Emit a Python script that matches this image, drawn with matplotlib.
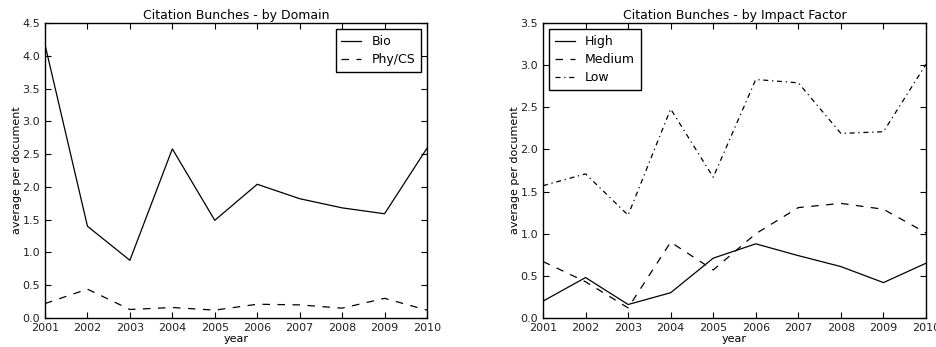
import numpy as np
import matplotlib
matplotlib.use('Agg')
import matplotlib.pyplot as plt

years = [2001, 2002, 2003, 2004, 2005, 2006, 2007, 2008, 2009, 2010]

bio = [4.17, 1.40, 0.88, 2.58, 1.49, 2.04, 1.82, 1.68, 1.59, 2.59]
phycs = [0.22, 0.44, 0.13, 0.16, 0.12, 0.21, 0.20, 0.15, 0.30, 0.12]

high = [0.20, 0.48, 0.16, 0.30, 0.71, 0.88, 0.74, 0.61, 0.42, 0.65]
medium = [0.67, 0.43, 0.12, 0.90, 0.57, 1.00, 1.31, 1.36, 1.29, 1.01]
low = [1.57, 1.71, 1.22, 2.48, 1.67, 2.83, 2.79, 2.19, 2.21, 3.01]

plt.rcParams['font.size'] = 8
plt.rcParams['xtick.direction'] = 'in'
plt.rcParams['ytick.direction'] = 'in'
plt.rcParams['xtick.top'] = True
plt.rcParams['ytick.right'] = True
plt.rcParams['xtick.major.size'] = 4
plt.rcParams['ytick.major.size'] = 4
plt.rcParams['axes.linewidth'] = 1.0
plt.rcParams['legend.fancybox'] = False

fig = plt.figure(figsize=(9.36, 3.47), dpi=100)
ax = fig.add_axes([45/936., 1-318/347., (427-45)/936., (318-23)/347.])
ax2 = fig.add_axes([543/936., 1-318/347., (926-543)/936., (318-23)/347.])

ax.plot(years, bio, 'k-', lw=0.9, label='Bio')
ax.plot(years, phycs, 'k--', lw=0.9, dashes=(6, 6), label='Phy/CS')
ax.set_xlim(2001, 2010)
ax.set_ylim(0, 4.5)
ax.set_yticks(np.arange(0, 4.51, 0.5))
ax.set_xticks(years)
ax.set_title('Citation Bunches - by Domain', fontsize=9, pad=3)
ax.set_xlabel('year', labelpad=1)
ax.set_ylabel('average per document', labelpad=0)

ax2.plot(years, high, 'k-', lw=0.9, label='High')
ax2.plot(years, medium, 'k--', lw=0.9, dashes=(6, 6), label='Medium')
ax2.plot(years, low, 'k-.', lw=0.9, dashes=(4, 3, 1, 3), label='Low')
ax2.set_xlim(2001, 2010)
ax2.set_ylim(0, 3.5)
ax2.set_yticks(np.arange(0, 3.51, 0.5))
ax2.set_xticks(years)
ax2.set_title('Citation Bunches - by Impact Factor', fontsize=9, pad=3)
ax2.set_xlabel('year', labelpad=1)
ax2.set_ylabel('average per document', labelpad=0)

leg = ax.legend(loc='upper right', fontsize=9, borderaxespad=0.5, handlelength=1.6,
                handletextpad=0.8, labelspacing=0.4, borderpad=0.45)
leg2 = ax2.legend(loc='upper left', fontsize=9, borderaxespad=0.5, handlelength=1.6,
                  handletextpad=0.8, labelspacing=0.4, borderpad=0.45)
for lg in (leg, leg2):
    lg.get_frame().set_edgecolor('k')
    lg.get_frame().set_alpha(1)

for a in (ax, ax2):
    a.yaxis.set_major_formatter(matplotlib.ticker.FormatStrFormatter('%.1f'))
    for lbl in a.get_xticklabels() + a.get_yticklabels():
        lbl.set_color('#222222')

fig.savefig('out.png', dpi=100)
